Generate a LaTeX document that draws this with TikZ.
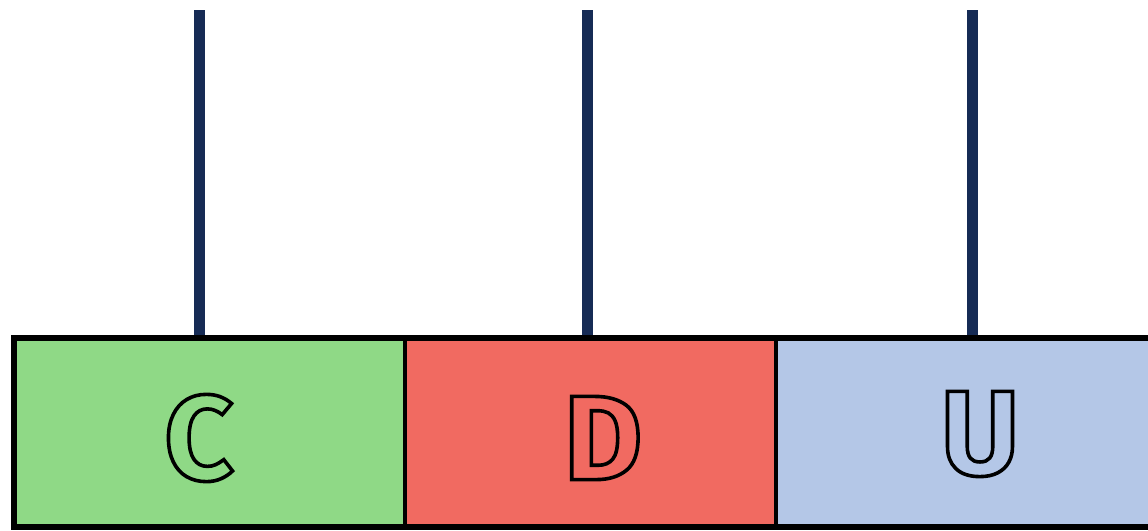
\documentclass[tikz,border=0pt]{standalone}
\usepackage{fontspec}
\setmainfont{Fira Sans}
\newfontfamily\letterfont[FakeBold=3]{Fira Sans Bold}
\definecolor{cgreen}{HTML}{8FD986}
\definecolor{cred}{HTML}{F16A61}
\definecolor{cblue}{HTML}{B4C7E7}
\definecolor{cnavy}{HTML}{162B55}
\newcommand\outlinedletter[2]{\special{pdf:bcolor [#1] [0 0 0]}#2\special{pdf:ecolor}}
\tikzset{
  stem/.style={draw=cnavy, line width=11pt},
  cell/.style={line width=4pt, draw=black},
  letter/.style={inner sep=0pt, font=\fontsize{120}{120}\letterfont},
}
\begin{document}
\begin{tikzpicture}[x=1pt,y=-1pt]
\clip (0,0) rectangle (1148,530);
% stems
\coordinate (t1) at (199,10);
\coordinate (t2) at (587,10);
\coordinate (t3) at (972,10);
\coordinate (b1) at (199,338);
\coordinate (b2) at (587,338);
\coordinate (b3) at (972,338);
\draw[stem] (t1) -- (b1);
\draw[stem] (t2) -- (b2);
\draw[stem] (t3) -- (b3);
% cells
\path[cell, fill=cgreen] (14,338) rectangle (405,527);
\path[cell, fill=cred] (405,338) rectangle (776,527);
\path[cell, fill=cblue] (776,338) rectangle (1170,527);
\draw[line width=6pt] (14,338) rectangle (1170,527);
% letters
\node[letter] (lc) at (199,438) {\outlinedletter{0.561 0.851 0.525}{C}};
\node[letter] (ld) at (603,438) {\outlinedletter{0.945 0.416 0.380}{D}};
\node[letter] (lu) at (980,434) {\outlinedletter{0.706 0.780 0.906}{U}};
\end{tikzpicture}
\end{document}
